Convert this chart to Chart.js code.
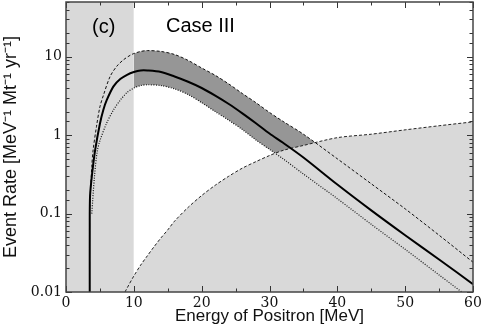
<!DOCTYPE html>
<html>
<head>
<meta charset="utf-8">
<script src="https://cdn.jsdelivr.net/npm/chart.js@4.4.1/dist/chart.umd.min.js"></script>
<style>
  html, body { margin: 0; padding: 0; background: #fff; }
  #wrap { width: 485px; height: 336px; }
</style>
</head>
<body>
<div id="wrap"><canvas id="rateChart"></canvas></div>
<script>
// Axis ranges
const energyRange = [0, 60];
const rateRange = [0.01, 50];
const excludedBand = [0, 10]; // shaded region below 10 MeV

// Rising edge of each curve (below 10 MeV), own energy grids
const centralLowE = [3.5, 3.5, 3.55, 3.9, 4.3, 5.0, 5.5, 6.0, 7.0, 8.0, 9.0];
const centralLowRate = [0.01, 0.06, 0.17, 0.35, 0.65, 1.4, 2.1, 2.8, 4.2, 5.2, 5.9];
const upperLowE = [3.5, 3.8, 4.0, 4.5, 5.0, 5.5, 6.5, 7.5, 8.5, 9.5];
const upperLowRate = [0.12, 0.4, 0.65, 1.3, 2.3, 3.2, 5.6, 7.6, 9.2, 10.5];
const lowerLowE = [3.8, 4.2, 4.6, 5.0, 6.0, 7.0, 8.0, 9.0];
const lowerLowRate = [0.1, 0.3, 0.62, 0.85, 1.43, 2.1, 2.8, 3.5];

// Shared grid from 10 MeV on
const energyGrid = [10, 11, 12, 14, 16, 18, 20, 22, 24, 26, 28, 30, 32, 35, 40, 45, 50, 55, 60];
const centralRate = [6.4, 6.7, 6.7, 6.4, 5.6, 4.8, 4.0, 3.2, 2.5, 1.9, 1.42, 1.05, 0.80, 0.52, 0.235, 0.11, 0.053, 0.026, 0.0126];
const upperRate = [11.0, 11.7, 12.0, 11.7, 10.7, 9.0, 7.2, 5.8, 4.5, 3.4, 2.6, 1.95, 1.5, 1.03, 0.50, 0.24, 0.115, 0.053, 0.024];
const lowerRate = [4.0, 4.3, 4.4, 4.3, 3.9, 3.3, 2.6, 2.0, 1.55, 1.18, 0.87, 0.66, 0.50, 0.32, 0.155, 0.073, 0.035, 0.0165, 0.0078];

// Background rate
const bgEnergy = [8.7, 9.0, 10, 11, 12, 13, 14, 15, 16, 18, 20, 22, 24, 26, 28, 30, 32, 35, 40, 45, 50, 55, 60];
const bgRate = [0.01, 0.0112, 0.016, 0.022, 0.029, 0.038, 0.049, 0.062, 0.08, 0.12, 0.17, 0.23, 0.30, 0.38, 0.46, 0.55, 0.64, 0.74, 0.93, 1.03, 1.17, 1.32, 1.48];

const pts = (xs, ys) => xs.map((x, i) => ({ x: x, y: ys[i] }));

const lightGray = '#d9d9d9';
const darkGray = '#969696';

// inward ticks, frame and panel labels
const frameTicks = {
    id: 'frameTicks',
    afterDatasetsDraw(chart) {
        const ctx = chart.ctx;
        const a = chart.chartArea;
        const xs = chart.scales.x;
        const ys = chart.scales.y;
        ctx.save();
        ctx.strokeStyle = '#333';
        ctx.lineWidth = 1;
        ctx.beginPath();
        xs.ticks.forEach(t => {
            const px = Math.round(xs.getPixelForValue(t.value)) + 0.5;
            const len = t.value % 10 === 0 ? 6 : 3.5;
            ctx.moveTo(px, a.bottom); ctx.lineTo(px, a.bottom - len);
            ctx.moveTo(px, a.top); ctx.lineTo(px, a.top + len);
        });
        ys.ticks.forEach(t => {
            const py = Math.round(ys.getPixelForValue(t.value)) + 0.5;
            const lg = Math.log10(t.value);
            const len = Math.abs(lg - Math.round(lg)) < 1e-6 ? 6 : 3.5;
            ctx.moveTo(a.left, py); ctx.lineTo(a.left + len, py);
            ctx.moveTo(a.right, py); ctx.lineTo(a.right - len, py);
        });
        ctx.stroke();
        ctx.lineWidth = 1.5;
        ctx.strokeStyle = '#444';
        ctx.strokeRect(a.left, a.top, a.right - a.left, a.bottom - a.top);

        ctx.fillStyle = '#000';
        ctx.font = "20px 'Liberation Sans', Arial, sans-serif";
        ctx.textBaseline = 'alphabetic';
        ctx.fillText('(c)', 92, 33);
        ctx.fillText('Case III', 166, 32);
        ctx.restore();
    }
};

const ctx = document.getElementById('rateChart').getContext('2d');
const chart = new Chart(ctx, {
    type: 'line',
    data: {
        datasets: [
            {   // central prediction
                data: pts(centralLowE.concat(energyGrid), centralLowRate.concat(centralRate)),
                borderColor: '#000',
                borderWidth: 2,
                fill: false,
                order: 1
            },
            {   // upper bound
                data: pts(upperLowE.concat(energyGrid), upperLowRate.concat(upperRate)),
                borderColor: '#111',
                borderWidth: 1,
                borderDash: [3, 2],
                fill: false,
                order: 2
            },
            {   // lower bound
                data: pts(lowerLowE.concat(energyGrid), lowerLowRate.concat(lowerRate)),
                borderColor: '#111',
                borderWidth: 1.2,
                borderDash: [1, 1.5],
                fill: false,
                order: 3
            },
            {   // background
                data: pts(bgEnergy, bgRate),
                borderColor: '#222',
                borderWidth: 1,
                borderDash: [3, 2],
                backgroundColor: lightGray,
                fill: 'start',
                order: 4
            },
            {   // uncertainty band, top edge
                data: pts(energyGrid, upperRate),
                borderWidth: 0,
                borderColor: 'rgba(0,0,0,0)',
                backgroundColor: darkGray,
                fill: 5,
                order: 5
            },
            {   // uncertainty band, bottom edge
                data: pts(energyGrid, lowerRate),
                borderWidth: 0,
                borderColor: 'rgba(0,0,0,0)',
                fill: false,
                order: 6
            },
            {   // excluded low-energy region
                data: pts(excludedBand, [rateRange[1], rateRange[1]]),
                borderWidth: 0,
                borderColor: 'rgba(0,0,0,0)',
                backgroundColor: lightGray,
                fill: 'start',
                tension: 0,
                order: 7
            }
        ]
    },
    options: {
        responsive: true,
        maintainAspectRatio: false,
        animation: false,
        events: [],
        layout: { padding: { left: 0, right: 12, top: 2, bottom: 0 } },
        elements: {
            point: { radius: 0 },
            line: { tension: 0.3 }
        },
        plugins: {
            legend: { display: false },
            tooltip: { enabled: false }
        },
        scales: {
            x: {
                type: 'linear',
                min: energyRange[0],
                max: energyRange[1],
                grid: { display: false, drawTicks: false },
                border: { display: false },
                afterFit(scale) {
                    scale.height = 44;
                    scale.paddingLeft = 0;
                    scale.paddingRight = 0;
                },
                ticks: {
                    stepSize: 5,
                    autoSkip: false,
                    maxRotation: 0,
                    padding: 3,
                    color: '#111',
                    font: { family: "'DejaVu Serif', serif", size: 14 },
                    callback: v => (v % 10 === 0 ? String(v) : '')
                },
                title: {
                    display: true,
                    text: 'Energy of Positron [MeV]',
                    color: '#111',
                    font: { family: "'Liberation Sans', Arial, sans-serif", size: 17 },
                    padding: { top: 0, bottom: 9 }
                }
            },
            y: {
                type: 'logarithmic',
                min: rateRange[0],
                max: rateRange[1],
                grid: { display: false, drawTicks: false },
                border: { display: false },
                afterFit(scale) {
                    scale.width = 66;
                    scale.paddingTop = 0;
                    scale.paddingBottom = 0;
                },
                ticks: {
                    autoSkip: false,
                    padding: 4,
                    color: '#111',
                    font: { family: "'DejaVu Serif', serif", size: 14 },
                    callback: v => {
                        const lg = Math.log10(v);
                        return Math.abs(lg - Math.round(lg)) < 1e-6 ? String(v) : '';
                    }
                },
                title: {
                    display: true,
                    text: 'Event Rate [MeV\u207B\u00B9 Mt\u207B\u00B9 yr\u207B\u00B9]',
                    color: '#111',
                    font: { family: "'Liberation Sans', Arial, sans-serif", size: 18 },
                    padding: { top: 0, bottom: 0 }
                }
            }
        }
    },
    plugins: [frameTicks]
});
</script>
</body>
</html>
